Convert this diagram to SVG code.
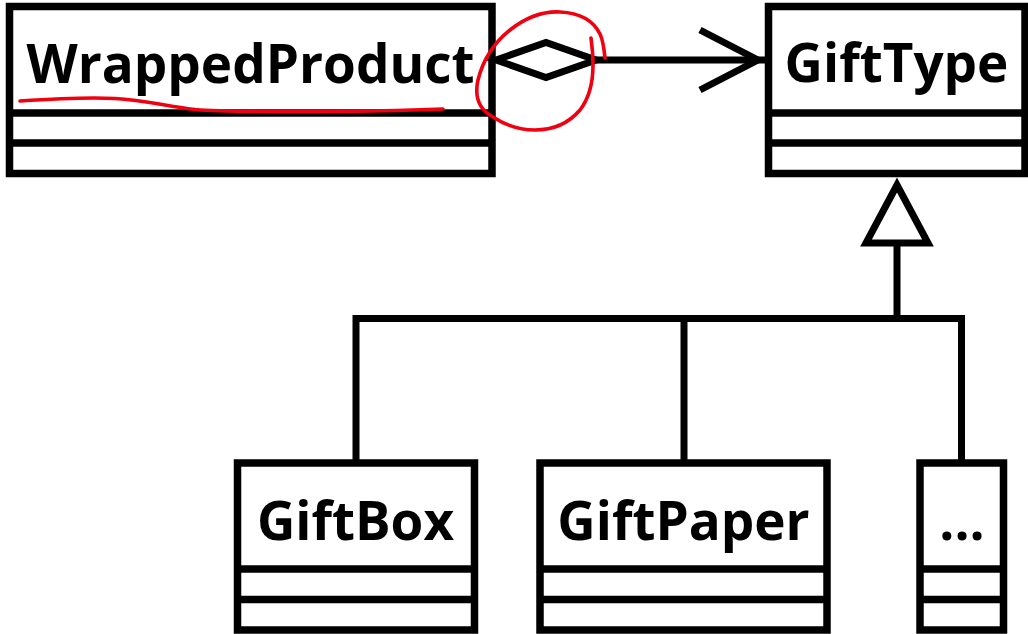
<svg xmlns="http://www.w3.org/2000/svg" width="1028" height="634" viewBox="0 0 1028 634">
  <style>
    .box { fill: #fff; stroke: #000; stroke-width: 7.5; }
    .sep { stroke: #000; stroke-width: 7.5; }
    .name { font-family: "Open Sans", "Liberation Sans", sans-serif; font-weight: 700; font-size: 53px; text-anchor: middle; fill: #000; }
    .edge { fill: none; stroke: #000; stroke-width: 7; }
    .ink { fill: none; stroke: #f00010; stroke-width: 3.6; stroke-linecap: round; stroke-linejoin: round; }
  </style>
  <rect width="1028" height="634" fill="#fff"/>

  <!-- class nodes -->
  <g id="wrapped-product">
    <rect class="box" x="9.5" y="6.5" width="482.5" height="167"/>
    <line class="sep" x1="9.5" y1="113" x2="492" y2="113"/>
    <line class="sep" x1="9.5" y1="143" x2="492" y2="143"/>
    <text class="name" x="250.5" y="83">WrappedProduct</text>
  </g>

  <g id="gift-type">
    <rect class="box" x="768.5" y="6.5" width="256.5" height="167"/>
    <line class="sep" x1="768.5" y1="113" x2="1025" y2="113"/>
    <line class="sep" x1="768.5" y1="143" x2="1025" y2="143"/>
    <text class="name" x="896.5" y="82">GiftType</text>
  </g>

  <g id="gift-box">
    <rect class="box" x="237.5" y="463" width="237" height="167"/>
    <line class="sep" x1="237.5" y1="569" x2="474.5" y2="569"/>
    <line class="sep" x1="237.5" y1="599.5" x2="474.5" y2="599.5"/>
    <text class="name" x="355.5" y="540">GiftBox</text>
  </g>

  <g id="gift-paper">
    <rect class="box" x="540" y="463" width="287" height="167"/>
    <line class="sep" x1="540" y1="569" x2="827" y2="569"/>
    <line class="sep" x1="540" y1="599.5" x2="827" y2="599.5"/>
    <text class="name" x="683.5" y="540">GiftPaper</text>
  </g>

  <g id="more-types">
    <rect class="box" x="920" y="463" width="83.5" height="167"/>
    <line class="sep" x1="920" y1="569" x2="1003.5" y2="569"/>
    <line class="sep" x1="920" y1="599.5" x2="1003.5" y2="599.5"/>
    <text class="name" x="962" y="540">...</text>
  </g>

  <!-- connectors -->
  <g id="connectors">
    <!-- aggregation: WrappedProduct -> GiftType -->
    <polygon class="edge" points="496,60 546,42.5 596,60 546,77.5"/>
    <line class="edge" x1="596" y1="60" x2="765" y2="60"/>
    <polyline class="edge" points="700,30 758,60 700,90"/>

    <!-- generalisation tree -->
    <polygon class="edge" points="897,185 866,243 928,243"/>
    <line class="edge" x1="897" y1="243" x2="897" y2="318.5"/>
    <polyline class="edge" points="356,463 356,318.5 961.5,318.5 961.5,463"/>
    <line class="edge" x1="684" y1="318.5" x2="684" y2="463"/>
  </g>

  <!-- red pen marks -->
  <g id="annotations">
    <path class="ink" d="M20,101 C50,99 90,97 115,98.5 C145,100 165,106 195,109.5 C225,112 280,112 343,111.5 C390,111 420,110 443,109"/>
    <path class="ink" d="M605,58 C604,48 603,40 600,34 C594,22 582,13 560,12 C540,11 524,19 510,30 C495,42 483,60 478,80 C474,98 480,110 493,117 C505,125 520,130 535,130 C552,130 568,124 580,110 C590,97 593,80 593,65 C593,55 592,45 591,38"/>
  </g>
</svg>
